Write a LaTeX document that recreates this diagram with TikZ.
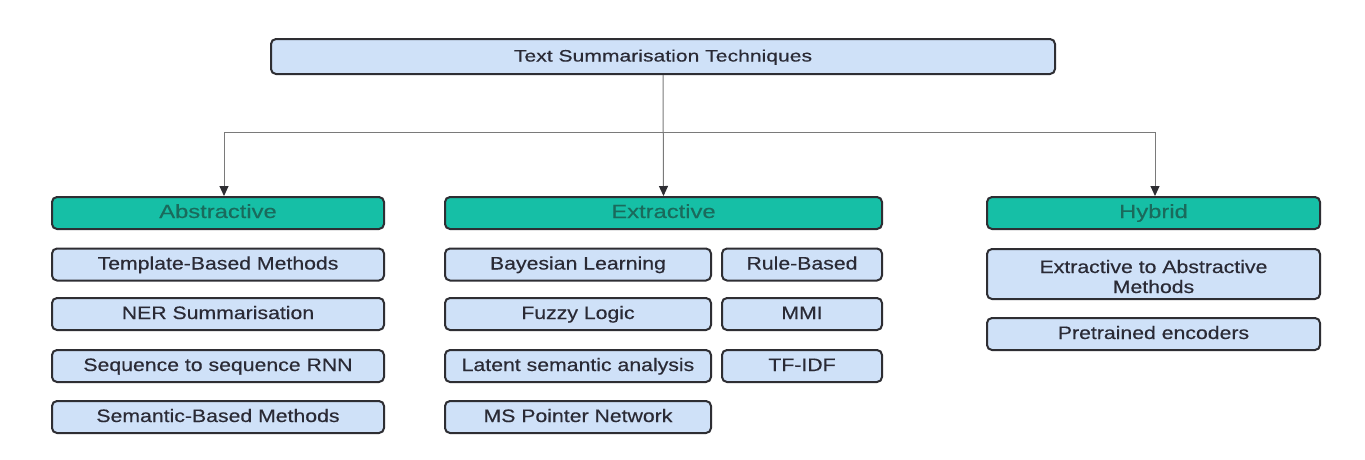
\documentclass[tikz,border=0pt]{standalone}
\usepackage{fontspec}
\setmainfont[FakeStretch=1.18,FakeBold=0.4]{Liberation Sans}
\newfontfamily\titlefnt[FakeStretch=1.28,FakeBold=0.4]{Liberation Sans}
\newfontfamily\headfnt[FakeStretch=1.25,FakeBold=0.4]{Liberation Sans}
\usetikzlibrary{arrows.meta}
\definecolor{boxblue}{HTML}{CFE1F8}
\definecolor{teal1}{HTML}{16BFA6}
\definecolor{tealtext}{HTML}{1A6A5C}
\definecolor{edge}{HTML}{2E2E33}
\definecolor{txt}{HTML}{2A2A35}
\definecolor{conncol}{HTML}{7A7A7A}
\tikzset{
  base/.style={draw=edge, line width=2pt, rounded corners=5pt, align=center, inner sep=0pt},
  itembase/.style={base, fill=boxblue, text=txt, font=\fontsize{18}{20}\selectfont},
  item/.style={itembase, text height=1em, text depth=0pt},
  head/.style={base, fill=teal1, text=tealtext, font=\headfnt\fontsize{19}{23}\selectfont, text height=1em, text depth=0pt},
  conn/.style={draw=conncol, line width=1pt},
  arr/.style={conn, -{Triangle[length=10pt,width=9pt,color=edge]}}
}
\begin{document}
\begin{tikzpicture}[x=1pt,y=-1pt]
\useasboundingbox (0,0) rectangle (1365,459);
\fill[white] (0,0) rectangle (1365,459);
% title
\node[item, minimum width=784, minimum height=35, font=\titlefnt\fontsize{16.5}{20}\selectfont] (title) at (663,56.5) {Text Summarisation Techniques};
% headers
\node[head, minimum width=332, minimum height=32] (abs) at (218,213) {Abstractive};
\node[head, minimum width=437, minimum height=32] (ext) at (663.5,213) {Extractive};
\node[head, minimum width=333, minimum height=32] (hyb) at (1153.5,213) {Hybrid};
% abstractive items
\node[item, minimum width=332, minimum height=32] (a1) at (218,264.5) {Template-Based Methods};
\node[item, minimum width=332, minimum height=32] (a2) at (218,314) {NER Summarisation};
\node[item, minimum width=332, minimum height=32] (a3) at (218,366) {Sequence to sequence RNN};
\node[item, minimum width=332, minimum height=32] (a4) at (218,417) {Semantic-Based Methods};
% extractive items
\node[item, minimum width=266, minimum height=32] (e1) at (578,264.5) {Bayesian Learning};
\node[item, minimum width=266, minimum height=32] (e2) at (578,314) {Fuzzy Logic};
\node[item, minimum width=266, minimum height=32] (e3) at (578,366) {Latent semantic analysis};
\node[item, minimum width=266, minimum height=32] (e4) at (578,417) {MS Pointer Network};
\node[item, minimum width=160, minimum height=32] (r1) at (802,264.5) {Rule-Based};
\node[item, minimum width=160, minimum height=32] (r2) at (802,314) {MMI};
\node[item, minimum width=160, minimum height=32] (r3) at (802,366) {TF-IDF};
% hybrid items
\node[itembase, minimum width=333, minimum height=50, text height=38pt, text depth=0pt] (h1) at (1153.5,274) {Extractive to Abstractive\\Methods};
\node[item, minimum width=333, minimum height=32] (h2) at (1153.5,334) {Pretrained encoders};
% connectors
\coordinate (jl) at (224,132);
\coordinate (jr) at (1155,132);
\draw[arr] (title.south) -- (ext.north);
\draw[conn] (jl) -- (jr);
\draw[arr] (jl) -- (jl |- abs.north);
\draw[arr] (jr) -- (jr |- hyb.north);
\end{tikzpicture}
\end{document}
